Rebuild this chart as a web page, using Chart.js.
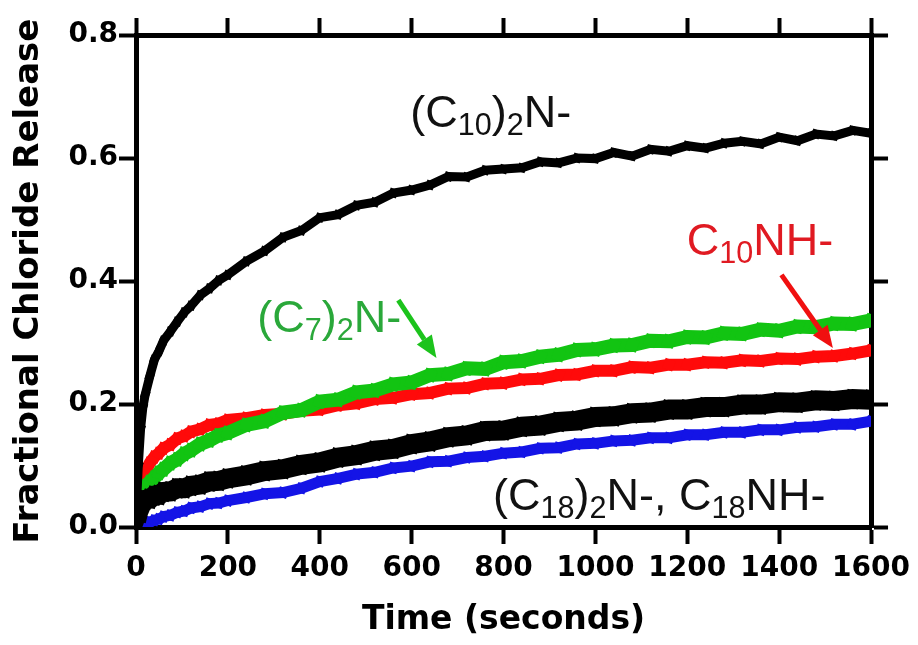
<!DOCTYPE html>
<html>
<head>
<meta charset="utf-8">
<script src="https://cdn.jsdelivr.net/npm/chart.js@4.4.1/dist/chart.umd.min.js"></script>
<style>
  html, body { margin: 0; padding: 0; background: #fff; }
  #wrap { width: 918px; height: 645px; }
</style>
</head>
<body>
<div id="wrap"><canvas id="releaseChart"></canvas></div>
<script>
// Time points (seconds)
const times = [0, 5, 10, 15, 20, 30, 40, 50, 60, 75, 90, 105, 120, 140, 160, 180, 200,
    240, 280, 320, 360, 400, 440, 480, 520, 560, 600, 640, 680, 720, 760, 800, 840, 880,
    920, 960, 1000, 1040, 1080, 1120, 1160, 1200, 1240, 1280, 1320, 1360, 1400, 1440,
    1480, 1520, 1560, 1600];

// Fractional chloride release
const c10DiN = [0.02, 0.10, 0.16, 0.195, 0.215, 0.245, 0.272, 0.286, 0.303, 0.318, 0.334, 0.349, 0.36, 0.377, 0.388, 0.401, 0.41,
    0.432, 0.449, 0.471, 0.482, 0.503, 0.508, 0.523, 0.528, 0.543, 0.548, 0.556, 0.57, 0.569, 0.58, 0.582, 0.584, 0.594,
    0.592, 0.6, 0.599, 0.609, 0.603, 0.614, 0.611, 0.62, 0.616, 0.624, 0.627, 0.623, 0.634, 0.628, 0.639, 0.636, 0.645, 0.64];
const c7DiN = [0.03, 0.045, 0.052, 0.06, 0.066, 0.073, 0.08, 0.088, 0.094, 0.104, 0.11, 0.119, 0.125, 0.135, 0.141, 0.149, 0.153,
    0.166, 0.172, 0.186, 0.19, 0.204, 0.207, 0.219, 0.222, 0.232, 0.235, 0.247, 0.249, 0.258, 0.257, 0.268, 0.27, 0.277,
    0.28, 0.288, 0.289, 0.295, 0.296, 0.303, 0.302, 0.309, 0.308, 0.315, 0.314, 0.321, 0.319, 0.326, 0.325, 0.331, 0.33, 0.336];
const c10NH = [0.04, 0.058, 0.07, 0.08, 0.09, 0.104, 0.114, 0.12, 0.128, 0.134, 0.144, 0.148, 0.155, 0.159, 0.166, 0.168, 0.174,
    0.177, 0.182, 0.184, 0.189, 0.191, 0.198, 0.201, 0.208, 0.21, 0.216, 0.218, 0.225, 0.226, 0.233, 0.234, 0.24, 0.241,
    0.247, 0.248, 0.254, 0.254, 0.26, 0.259, 0.264, 0.264, 0.268, 0.267, 0.271, 0.27, 0.274, 0.273, 0.277, 0.278, 0.282, 0.287];
const c18DiN = [0.01, 0.025, 0.034, 0.04, 0.044, 0.046, 0.051, 0.052, 0.057, 0.058, 0.063, 0.063, 0.067, 0.069, 0.074, 0.075, 0.079,
    0.084, 0.091, 0.094, 0.101, 0.105, 0.113, 0.117, 0.124, 0.127, 0.135, 0.139, 0.146, 0.149, 0.156, 0.157, 0.163, 0.165,
    0.171, 0.173, 0.179, 0.18, 0.185, 0.186, 0.191, 0.191, 0.195, 0.195, 0.199, 0.199, 0.203, 0.202, 0.206, 0.205, 0.208, 0.207];
const c18NH = [0, 0, 0.002, 0.004, 0.006, 0.008, 0.011, 0.013, 0.017, 0.019, 0.024, 0.026, 0.031, 0.033, 0.038, 0.039, 0.043,
    0.048, 0.054, 0.056, 0.063, 0.074, 0.079, 0.086, 0.089, 0.096, 0.099, 0.106, 0.107, 0.113, 0.115, 0.12, 0.122, 0.128,
    0.129, 0.135, 0.136, 0.14, 0.141, 0.145, 0.145, 0.15, 0.15, 0.154, 0.154, 0.158, 0.158, 0.162, 0.163, 0.167, 0.167, 0.172];

// Axis ticks
const xTicks = [0, 200, 400, 600, 800, 1000, 1200, 1400, 1600];
const yTicks = [0.0, 0.2, 0.4, 0.6, 0.8];

// In-plot labels: text pieces [text, isSubscript], anchored in data units
const labels = [
    { parts: [["(C", 0], ["10", 1], [")", 0], ["2", 1], ["N-", 0]], t: 597, v: 0.650, color: "#111111" },
    { parts: [["C", 0], ["10", 1], ["NH-", 0]], t: 1199, v: 0.442, color: "#e01a22" },
    { parts: [["(C", 0], ["7", 1], [")", 0], ["2", 1], ["N-", 0]], t: 264, v: 0.317, color: "#2aa83a" },
    { parts: [["(C", 0], ["18", 1], [")", 0], ["2", 1], ["N-, C", 0], ["18", 1], ["NH-", 0]], t: 777, v: 0.028, color: "#111111" }
];
const arrows = [
    { from: [571, 0.369], to: [654, 0.275], color: "#1cc31c" },
    { from: [1405, 0.410], to: [1517, 0.291], color: "#f01010" }
];

function toPoints(values) {
    return times.map((t, i) => ({ x: t, y: values[i] }));
}

function series(label, values, color, width) {
    return {
        label: label,
        data: toPoints(values),
        borderColor: color,
        backgroundColor: color,
        borderWidth: width,
        pointStyle: "rect",
        pointRadius: width / 2 + 1.5,
        pointBorderWidth: 0,
        pointRotation: 20,
        tension: 0,
        fill: false
    };
}

// Draw the text labels and arrows on top of the traces
const annotate = {
    id: "annotate",
    afterDatasetsDraw(chart) {
        const ctx = chart.ctx;
        const xs = chart.scales.x, ys = chart.scales.y;
        const size = 45;
        ctx.save();
        ctx.textBaseline = "alphabetic";
        ctx.textAlign = "left";
        labels.forEach(lab => {
            let x = xs.getPixelForValue(lab.t);
            const y = ys.getPixelForValue(lab.v);
            ctx.fillStyle = lab.color;
            lab.parts.forEach(([txt, sub]) => {
                const fs = sub ? size * 0.68 : size;
                ctx.font = fs + "px 'Liberation Sans', Arial, sans-serif";
                ctx.fillText(txt, x, sub ? y + size * 0.18 : y);
                x += ctx.measureText(txt).width;
            });
        });
        arrows.forEach(a => {
            const x0 = xs.getPixelForValue(a.from[0]), y0 = ys.getPixelForValue(a.from[1]);
            const x1 = xs.getPixelForValue(a.to[0]), y1 = ys.getPixelForValue(a.to[1]);
            const ang = Math.atan2(y1 - y0, x1 - x0);
            const head = 22, half = 9;
            const bx = x1 - head * Math.cos(ang), by = y1 - head * Math.sin(ang);
            ctx.strokeStyle = a.color;
            ctx.fillStyle = a.color;
            ctx.lineWidth = 5;
            ctx.beginPath();
            ctx.moveTo(x0, y0);
            ctx.lineTo(bx, by);
            ctx.stroke();
            ctx.beginPath();
            ctx.moveTo(x1, y1);
            ctx.lineTo(bx + half * Math.sin(ang), by - half * Math.cos(ang));
            ctx.lineTo(bx - half * Math.sin(ang), by + half * Math.cos(ang));
            ctx.closePath();
            ctx.fill();
        });
        ctx.restore();
    }
};

const tickFont = { family: "'DejaVu Sans', sans-serif", weight: "bold", size: 28 };
const gridOpts = {
    display: true,
    drawOnChartArea: false,
    drawTicks: true,
    tickLength: 17,
    tickWidth: 4,
    tickColor: "#000",
    color: "#000"
};
const borderOpts = { display: true, color: "#000", width: 5 };

new Chart(document.getElementById("releaseChart").getContext("2d"), {
    type: "line",
    data: {
        datasets: [
            series("(C10)2N-", c10DiN, "#000000", 9),
            series("(C18)2N-", c18DiN, "#000000", 20),
            series("(C7)2N-", c7DiN, "#12c412", 14),
            series("C10NH-", c10NH, "#ff0a0a", 12),
            series("C18NH-", c18NH, "#1414e6", 11)
        ]
    },
    options: {
        responsive: true,
        maintainAspectRatio: false,
        animation: false,
        layout: { padding: 0 },
        plugins: {
            legend: { display: false },
            tooltip: { enabled: false }
        },
        scales: {
            x: {
                type: "linear",
                position: "bottom",
                min: 0,
                max: 1600,
                afterBuildTicks: s => { s.ticks = xTicks.map(v => ({ value: v })); },
                afterFit: s => { s.height = 118; },
                ticks: { font: tickFont, color: "#000", padding: 8, maxRotation: 0, autoSkip: false, callback: v => String(v) },
                grid: gridOpts,
                border: borderOpts,
                title: {
                    display: true,
                    text: "Time (seconds)",
                    color: "#000",
                    font: { family: "'DejaVu Sans', sans-serif", weight: "bold", size: 33 },
                    padding: { top: 0, bottom: 5 }
                }
            },
            x2: {
                type: "linear",
                position: "top",
                min: 0,
                max: 1600,
                afterBuildTicks: s => { s.ticks = xTicks.map(v => ({ value: v })); },
                afterFit: s => { s.height = 35; },
                ticks: { display: false },
                grid: gridOpts,
                border: borderOpts
            },
            y: {
                type: "linear",
                position: "left",
                min: 0,
                max: 0.8,
                afterBuildTicks: s => { s.ticks = yTicks.map(v => ({ value: v })); },
                afterFit: s => { s.width = 136; },
                ticks: { font: tickFont, color: "#000", padding: 1, callback: v => v.toFixed(1) },
                grid: gridOpts,
                border: borderOpts,
                title: {
                    display: true,
                    text: "Fractional Chloride Release",
                    color: "#000",
                    font: { family: "'DejaVu Sans', sans-serif", weight: "bold", size: 34 },
                    padding: { top: 9, bottom: 0 }
                }
            },
            y2: {
                type: "linear",
                position: "right",
                min: 0,
                max: 0.8,
                afterBuildTicks: s => { s.ticks = yTicks.map(v => ({ value: v })); },
                afterFit: s => { s.width = 43; },
                ticks: { display: false },
                grid: gridOpts,
                border: borderOpts
            }
        }
    },
    plugins: [annotate]
});
</script>
</body>
</html>
